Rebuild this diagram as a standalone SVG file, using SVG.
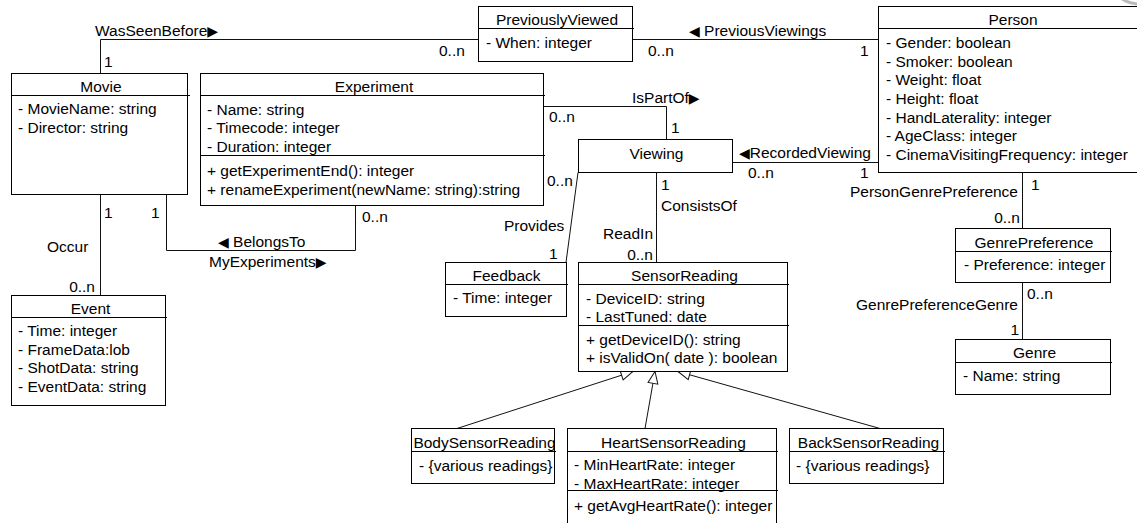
<svg xmlns="http://www.w3.org/2000/svg" width="1137" height="523" viewBox="0 0 1137 523">
  <style>
    text { font-family: "Liberation Sans", Arial, "DejaVu Sans", sans-serif; font-size: 15.5px; fill: #000; }
    .c { text-anchor: middle; }
    .e { text-anchor: end; }
    .arw { font-family: "DejaVu Sans", sans-serif; font-size: 14px; }
    .box { fill: #fff; stroke: #000; stroke-width: 1; }
    .sep { stroke: #000; stroke-width: 1; }
    .conn { fill: none; stroke: #111; stroke-width: 1; }
    .gen { fill: none; stroke: #111; stroke-width: 1; marker-end: url(#tri); }
  </style>
  <defs>
    <!-- hollow triangle for generalization -->
    <marker id="tri" viewBox="0 0 14 12" refX="13" refY="6" markerWidth="14" markerHeight="12" orient="auto" markerUnits="userSpaceOnUse">
      <path d="M1,1 L13,6 L1,11 Z" fill="#fff" stroke="#111" stroke-width="1"/>
    </marker>
  </defs>

  <rect width="1137" height="523" fill="#fff"/>

  <!-- connectors -->
  <g id="connectors">
    <polyline class="conn" points="100.5,73.5 100.5,39.5 478.5,39.5"/>
    <line class="conn" x1="632.5" y1="39.5" x2="878.5" y2="39.5"/>
    <polyline class="conn" points="543.5,106.5 666.5,106.5 666.5,139.5"/>
    <line class="conn" x1="732.5" y1="162.5" x2="878.5" y2="162.5"/>
    <line class="conn" x1="1022.5" y1="172.5" x2="1022.5" y2="228.5"/>
    <line class="conn" x1="1022.5" y1="282.5" x2="1022.5" y2="339.5"/>
    <line class="conn" x1="578" y1="172.5" x2="566" y2="262.5"/>
    <line class="conn" x1="656.5" y1="172.5" x2="656.5" y2="262.5"/>
    <line class="conn" x1="100.5" y1="194.5" x2="100.5" y2="295.5"/>
    <polyline class="conn" points="166.5,194.5 166.5,250.5 355.5,250.5 355.5,205.5"/>
    <line class="gen" x1="457" y1="428.5" x2="633" y2="371.5"/>
    <line class="gen" x1="645" y1="428.5" x2="655" y2="371.5"/>
    <line class="gen" x1="880" y1="428.5" x2="678" y2="371.5"/>

    <text x="95" y="36">WasSeenBefore<tspan class="arw">▶</tspan></text>
    <text x="104" y="67">1</text>
    <text x="439" y="56">0..n</text>
    <text x="689" y="36"><tspan class="arw">◀</tspan> PreviousViewings</text>
    <text x="648" y="56">0..n</text>
    <text x="860" y="56">1</text>
    <text x="632" y="103">IsPartOf<tspan class="arw">▶</tspan></text>
    <text x="549" y="122">0..n</text>
    <text x="671" y="133">1</text>
    <text x="739" y="158"><tspan class="arw">◀</tspan>RecordedViewing</text>
    <text x="748" y="178">0..n</text>
    <text x="860" y="178">1</text>
    <text x="1031" y="190">1</text>
    <text class="e" x="1018" y="197">PersonGenrePreference</text>
    <text class="e" x="1020" y="223">0..n</text>
    <text x="1027" y="299">0..n</text>
    <text class="e" x="1018" y="310">GenrePreferenceGenre</text>
    <text class="e" x="1019" y="335">1</text>
    <text x="547" y="186">0..n</text>
    <text x="504" y="231">Provides</text>
    <text x="549" y="259">1</text>
    <text x="661" y="190">1</text>
    <text x="661" y="211">ConsistsOf</text>
    <text class="e" x="653" y="239">ReadIn</text>
    <text class="e" x="653" y="260">0..n</text>
    <text x="104" y="218">1</text>
    <text x="47" y="252">Occur</text>
    <text class="e" x="95" y="292">0..n</text>
    <text x="151" y="218">1</text>
    <text x="218" y="247"><tspan class="arw">◀</tspan> BelongsTo</text>
    <text x="209" y="267">MyExperiments<tspan class="arw">▶</tspan></text>
    <text x="362" y="222">0..n</text>
  </g>

  <g id="Movie">
    <rect class="box" x="11.5" y="73.5" width="176" height="121"/>
    <line class="sep" x1="11.5" y1="95.5" x2="190" y2="95.5"/>
    <text class="c" x="101" y="92">Movie</text>
    <text x="18" y="114">- MovieName: string</text>
    <text x="18" y="133">- Director: string</text>
  </g>

  <g id="Experiment">
    <rect class="box" x="200.5" y="73.5" width="343" height="132"/>
    <line class="sep" x1="200.5" y1="95.5" x2="545" y2="95.5"/>
    <line class="sep" x1="200.5" y1="155.5" x2="545" y2="155.5"/>
    <text class="c" x="374" y="92">Experiment</text>
    <text x="207" y="114.5">- Name: string</text>
    <text x="207" y="133">- Timecode: integer</text>
    <text x="207" y="151.5">- Duration: integer</text>
    <text x="207" y="176">+ getExperimentEnd(): integer</text>
    <text x="207" y="194.5">+ renameExperiment(newName: string):string</text>
  </g>

  <g id="PreviouslyViewed">
    <rect class="box" x="478.5" y="6.5" width="154" height="55"/>
    <line class="sep" x1="478.5" y1="28.5" x2="634" y2="28.5"/>
    <text class="c" x="557" y="25">PreviouslyViewed</text>
    <text x="486" y="47.5">- When: integer</text>
  </g>

  <g id="Person">
    <rect class="box" x="878.5" y="6.5" width="300" height="166"/>
    <line class="sep" x1="878.5" y1="28.5" x2="1137" y2="28.5"/>
    <text class="c" x="1013" y="25">Person</text>
    <text x="886" y="48">- Gender: boolean</text>
    <text x="886" y="66.7">- Smoker: boolean</text>
    <text x="886" y="85.4">- Weight: float</text>
    <text x="886" y="104">- Height: float</text>
    <text x="886" y="122.7">- HandLaterality: integer</text>
    <text x="886" y="141.4">- AgeClass: integer</text>
    <text x="886" y="160">- CinemaVisitingFrequency: integer</text>
  </g>

  <g id="Viewing">
    <rect class="box" x="578.5" y="139.5" width="154" height="33"/>
    <text class="c" x="656.5" y="159">Viewing</text>
  </g>

  <g id="Feedback">
    <rect class="box" x="445.5" y="262.5" width="121" height="54"/>
    <line class="sep" x1="445.5" y1="284.5" x2="568" y2="284.5"/>
    <text class="c" x="506.5" y="281">Feedback</text>
    <text x="453" y="303">- Time: integer</text>
  </g>

  <g id="SensorReading">
    <rect class="box" x="578.5" y="262.5" width="209" height="109"/>
    <line class="sep" x1="578.5" y1="284.5" x2="789" y2="284.5"/>
    <line class="sep" x1="578.5" y1="325.5" x2="789" y2="325.5"/>
    <text class="c" x="684.5" y="281">SensorReading</text>
    <text x="586" y="303.5">- DeviceID: string</text>
    <text x="586" y="322">- LastTuned: date</text>
    <text x="586" y="344.5">+ getDeviceID(): string</text>
    <text x="586" y="363">+ isValidOn( date ): boolean</text>
  </g>

  <g id="BodySensorReading">
    <rect class="box" x="411.5" y="428.5" width="143" height="55"/>
    <line class="sep" x1="411.5" y1="451.5" x2="556" y2="451.5"/>
    <text class="c" x="484.5" y="447.5">BodySensorReading</text>
    <text x="419" y="470.5">- {various readings}</text>
  </g>

  <g id="HeartSensorReading">
    <rect class="box" x="567.5" y="428.5" width="209" height="120"/>
    <line class="sep" x1="567.5" y1="451.5" x2="778" y2="451.5"/>
    <line class="sep" x1="567.5" y1="490.5" x2="778" y2="490.5"/>
    <text class="c" x="673.5" y="447.5">HeartSensorReading</text>
    <text x="574" y="470">- MinHeartRate: integer</text>
    <text x="574" y="488.5">- MaxHeartRate: integer</text>
    <text x="574" y="511">+ getAvgHeartRate(): integer</text>
  </g>

  <g id="BackSensorReading">
    <rect class="box" x="789.5" y="428.5" width="154" height="55"/>
    <line class="sep" x1="789.5" y1="451.5" x2="945" y2="451.5"/>
    <text class="c" x="868.5" y="447.5">BackSensorReading</text>
    <text x="796" y="470.5">- {various readings}</text>
  </g>

  <g id="GenrePreference">
    <rect class="box" x="955.5" y="228.5" width="155" height="54"/>
    <line class="sep" x1="955.5" y1="251.5" x2="1112" y2="251.5"/>
    <text class="c" x="1034" y="248">GenrePreference</text>
    <text x="964" y="270">- Preference: integer</text>
  </g>

  <g id="Genre">
    <rect class="box" x="955.5" y="339.5" width="155" height="55"/>
    <line class="sep" x1="955.5" y1="362.5" x2="1112" y2="362.5"/>
    <text class="c" x="1034.5" y="358">Genre</text>
    <text x="963" y="381">- Name: string</text>
  </g>

  <g id="Event">
    <rect class="box" x="11.5" y="295.5" width="154" height="110"/>
    <line class="sep" x1="11.5" y1="317.5" x2="167" y2="317.5"/>
    <text class="c" x="90.5" y="314">Event</text>
    <text x="18" y="336">- Time: integer</text>
    <text x="18" y="354.7">- FrameData:lob</text>
    <text x="18" y="373.4">- ShotData: string</text>
    <text x="18" y="392">- EventData: string</text>
  </g>

  <!-- grey arc at the top right corner -->
  <circle cx="1140" cy="-30" r="34" fill="none" stroke="#bbb" stroke-width="3"/>
</svg>
